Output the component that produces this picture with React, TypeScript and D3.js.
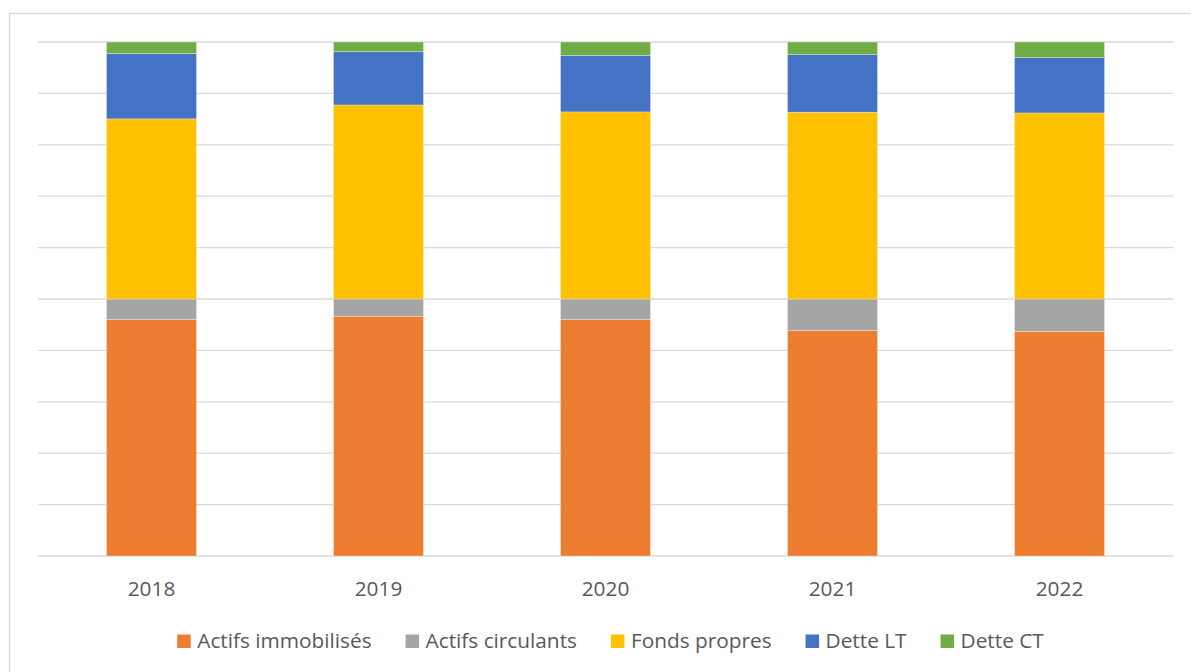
import React, { useEffect, useRef } from "react";
import * as d3 from "d3";

const years = ["2018", "2019", "2020", "2021", "2022"];
const seriesNames = ["Actifs immobilisés", "Actifs circulants", "Fonds propres", "Dette LT", "Dette CT"];
const actifsImmobilises = [92.0, 93.3, 92.0, 87.7, 87.4];
const actifsCirculants = [8.0, 6.7, 8.0, 12.3, 12.6];
const fondsPropres = [70.1, 75.5, 72.8, 72.7, 72.4];
const detteLT = [25.4, 20.7, 21.9, 22.4, 21.6];
const detteCT = [4.5, 3.8, 5.3, 4.9, 6.0];
const colors = ["#ED7D31", "#A5A5A5", "#FFC000", "#4472C4", "#70AD47"];
const gridTicks = [0, 20, 40, 60, 80, 100, 120, 140, 160, 180, 200];

const W = 1191;
const H = 672;
const FONT = "'Open Sans', sans-serif";

export default function App() {
  const ref = useRef<SVGSVGElement | null>(null);

  useEffect(() => {
    const svg = d3.select(ref.current);
    svg.selectAll("*").remove();

    const left = 38, right = 1173, top = 42, bottom = 556;

    // frame
    svg.append("rect")
      .attr("x", 9.5).attr("y", 13.5)
      .attr("width", W).attr("height", H)
      .attr("fill", "#fff").attr("stroke", "#d9d9d9").attr("stroke-width", 1.3);

    const x = d3.scaleBand<string>().domain(years).range([left, right])
      .paddingInner(0.6035).paddingOuter(0.30175);
    const y = d3.scaleLinear().domain([0, 200]).range([bottom, top]);

    // gridlines
    svg.append("g").selectAll("line").data(gridTicks).join("line")
      .attr("x1", left).attr("x2", right)
      .attr("y1", (d) => y(d)).attr("y2", (d) => y(d))
      .attr("stroke", "#d9d9d9").attr("stroke-width", 1.3);

    const rows = years.map((yr, i) => ({
      year: yr,
      a: actifsImmobilises[i],
      b: actifsCirculants[i],
      c: fondsPropres[i],
      d: detteLT[i],
      e: detteCT[i],
    }));
    const keys = ["a", "b", "c", "d", "e"];
    const stacked = d3.stack<any>().keys(keys)(rows);

    const g = svg.append("g");
    stacked.forEach((layer, li) => {
      g.append("g").selectAll("rect").data(layer).join("rect")
        .attr("x", (d: any) => x(d.data.year)!)
        .attr("width", x.bandwidth())
        .attr("y", (d: any) => y(d[1]))
        .attr("height", (d: any) => y(d[0]) - y(d[1]))
        .attr("fill", colors[li])
        .attr("stroke", "#ffffff").attr("stroke-opacity", 0.5).attr("stroke-width", 0.6);
    });

    // x axis labels
    svg.append("g").selectAll("text").data(years).join("text")
      .attr("x", (d) => x(d)! + x.bandwidth() / 2)
      .attr("y", 595.5)
      .attr("text-anchor", "middle")
      .attr("font-family", FONT).attr("font-size", 20.8)
      .attr("fill", "#595959")
      .text((d) => d);

    // legend
    const lg = svg.append("g");
    const sq = 13.5, gapText = 6.5, gapItem = 34;
    const items = seriesNames.map((name, i) => {
      const gi = lg.append("g");
      gi.append("rect").attr("width", sq).attr("height", sq).attr("y", 634.5).attr("fill", colors[i]);
      const t = gi.append("text").attr("x", sq + gapText).attr("y", 648)
        .attr("font-family", FONT).attr("font-size", 20.8).attr("fill", "#595959").text(name);
      const w = (t.node() as SVGTextElement).getComputedTextLength();
      return { gi, w: sq + gapText + w };
    });
    const total = items.reduce((s, it) => s + it.w, 0) + gapItem * (items.length - 1);
    let cx = 610.5 - total / 2;
    items.forEach((it) => {
      it.gi.attr("transform", `translate(${cx},0)`);
      cx += it.w + gapItem;
    });
  }, []);

  return (
    <svg
      ref={ref}
      width={W}
      height={H}
      style={{ position: "absolute", left: 0, top: 0, display: "block", background: "#fff" }}
    />
  );
}
